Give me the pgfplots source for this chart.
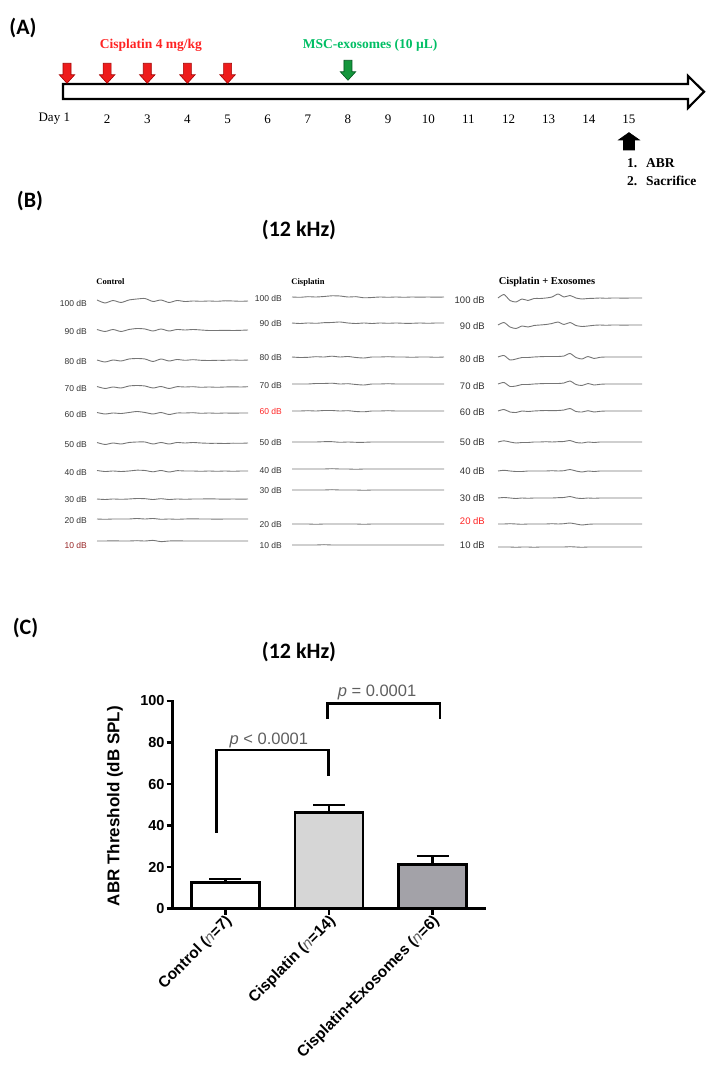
\documentclass[border=0pt]{standalone}
\usepackage{fontspec}
\setmainfont{Liberation Sans}
\newfontfamily\carlito{Carlito}
\newfontfamily\tnr{Liberation Serif}
\usepackage{pgfplots}
\usepackage{pgfplotstable}
\pgfplotsset{compat=1.18}

\definecolor{cred}{RGB}{238,28,28}
\definecolor{cdred}{RGB}{165,0,0}
\definecolor{cgreen}{RGB}{20,150,60}
\definecolor{cdgreen}{RGB}{0,85,30}
\definecolor{tgreen}{RGB}{0,190,100}
\definecolor{tred}{RGB}{255,35,35}
\definecolor{trace}{RGB}{118,118,118}
\definecolor{cisgray}{RGB}{214,214,214}
\definecolor{exogray}{RGB}{163,162,168}
\definecolor{pgray}{RGB}{95,95,95}
\definecolor{lbl}{RGB}{50,50,50}
\definecolor{darkred}{RGB}{150,35,35}

\pgfdeclareplotmark{darrow}{%
\pgfpathmoveto{\pgfqpoint{-4pt}{10pt}}%
\pgfpathlineto{\pgfqpoint{4pt}{10pt}}%
\pgfpathlineto{\pgfqpoint{4pt}{-1.5pt}}%
\pgfpathlineto{\pgfqpoint{7.7pt}{-1.5pt}}%
\pgfpathlineto{\pgfqpoint{0pt}{-10pt}}%
\pgfpathlineto{\pgfqpoint{-7.7pt}{-1.5pt}}%
\pgfpathlineto{\pgfqpoint{-4pt}{-1.5pt}}%
\pgfpathclose\pgfusepathqfillstroke}
\pgfdeclareplotmark{uarrow}{%
\pgfpathmoveto{\pgfqpoint{-5.5pt}{-8.7pt}}%
\pgfpathlineto{\pgfqpoint{5.5pt}{-8.7pt}}%
\pgfpathlineto{\pgfqpoint{5.5pt}{1.3pt}}%
\pgfpathlineto{\pgfqpoint{10.5pt}{1.3pt}}%
\pgfpathlineto{\pgfqpoint{0pt}{8.7pt}}%
\pgfpathlineto{\pgfqpoint{-10.5pt}{1.3pt}}%
\pgfpathlineto{\pgfqpoint{-5.5pt}{1.3pt}}%
\pgfpathclose\pgfusepathqfillstroke}

% ABR traces, y in pixels from top
\pgfplotstableread{
x c100 c90 c80 c70 c60 c50 c40 c30 c20 c10
97 300 329.5 360 386.5 412.5 442.5 470.5 499 519 541
105 303 331.5 362 388.5 414 444.5 471.5 499.5 519.3 541
113 300.5 329.5 360 387 413 443 471 499 519 540.8
121 302.5 331.5 361 388 413.5 444 471.5 499.3 519 541
129 300 329.5 359 386 412.5 442.5 471 499 519 541
137 299 328.5 358.5 385.5 411.5 442 470.2 498.5 518.5 540.7
145 298.5 329 359 386 412.5 442 470.5 498.7 519 541
153 301.5 331 361.5 388 414 444 471.8 499.5 518.5 540.4
161 300 329 359 386.5 412.5 442.5 470.5 498.7 519.3 541.6
169 302.5 331 361 388.5 414.5 444 472 499.5 519 541
177 300.5 329.5 359.5 386.7 413 442.5 470.7 499 519.3 540.8
185 301.5 330 360.3 387 413 443 471 499.3 519 541
193 301 329.5 359.7 386.7 412.7 442.5 471 499 518.8 541
201 301.3 330 360.3 387.3 413.3 443 471.3 499 519 541
209 301 330.5 360.5 387 413 443.3 471 498.8 519 541
217 301.3 330.5 360.3 387.3 413.3 443.3 471.3 499 519.2 541
225 300.8 330.3 360.3 387 413 443.5 471 499.2 519 541
233 301 330.5 360 386.8 413.2 443.2 471.3 499 519 541
241 301.3 330.3 360.3 387 413 443.3 471 499.2 519 541
248 301 330 360 386.7 413 443 471 499 519 541
}\ctrl

\pgfplotstableread{
x c100 c90 c80 c70 c60 c50 c40 c30 c20 c10
292 297 323 357 384 411 442 469 490 524 545
300 297.3 323.5 357.5 384 411 442 469 490 524 545
308 296.7 323 357.3 384 410.7 442 469 490 524 545
316 297 323.3 356.7 383.5 411 442 469 490 524.3 545
324 296.5 322.7 357 383.5 410.5 441.7 469 490 524 544.7
332 295.8 322.5 356.2 383.2 410.5 441.7 468.7 489.7 524 545
340 296 322 357 384 411 442.3 469 490 524 545
348 297 323 356.5 383.7 410.7 442 469 490 524 545
356 296.7 323.5 357.5 384.5 411.5 442.3 469.3 490 524 545
364 297.8 323 358 385 411.8 442.3 469 490.3 524.3 545
372 297.5 323.5 357 384 411 442 469 490 524 545
380 297 323 357 384 411 442 469 490 524 545
388 297.3 323.3 356.7 383.7 410.7 442 469 490 524 545
396 297 323 357 384 411 442 469 490 524 545
404 297.3 323.3 357 384 411 442 469 490 524 545
412 297 323.3 357.3 384 411 442 469 490 524 545
420 297.2 323 357 384 411 442 469 490 524 545
428 297 323.3 357 384 411 442 469 490 524 545
436 297.2 323 357.3 384 411 442 469 490 524 545
444 297 323 357 384 411 442 469 490 524 545
}\cis

\pgfplotstableread{
x c100 c90 c80 c70 c60 c50 c40 c30 c20 c10
498 298 325 357 384 411 442 471 498 524 547
504 294.5 322.5 355.5 382.5 409.5 440.8 470.3 497.5 524 547
510 300.5 327 360 386.5 412 442 471 498 523.7 547
516 302 328.5 359 386 412.5 443 471.5 498.5 524 547.3
522 299 326 357.5 384.5 411 442.5 471.5 498 524.3 547
528 300.5 327 357.5 384.5 411.5 442.5 471 498.3 524 547
534 298.5 325.5 357 384 411 442 471 498 524 547.3
540 298.5 325 356.7 383.7 410.7 442 471 498 524 547
546 298 324.5 356.5 383.5 410.5 441.7 471 498 524 547
552 297 323.5 356.5 383.5 410.7 442 470.7 498 523.7 547
558 294 322 356.5 383.5 410.5 441.7 471 497.7 524 547
564 297 324.5 356 383 410 441.5 470.7 497.5 523.7 547
570 295.5 322.5 353.5 381 408.5 440.5 469.5 496.5 523 546.7
576 298 325.5 357.5 384.5 411.5 442.5 471 498 524 547
582 299 326.5 359 385.5 412 443 472 498.5 525 547.3
588 298.5 326 356.5 383.5 410.7 442 471 498 524.3 547
594 298.3 325.3 358.5 385 412 442.5 471.5 498.3 524 547
600 298 325 357.3 384.3 411.3 442 471 498 524 547
606 298.3 325.3 357 384 411 442 471 498 524 547
612 298 325 357 384 411 442 471 498 524 547
618 298 325 357 384 411 442 471 498 524 547
624 298.2 325.2 357 384 411 442 471 498 524 547
630 298 325 357 384 411 442 471 498 524 547
636 298 325 357 384 411 442 471 498 524 547
642 298 325 357 384 411 442 471 498 524 547
}\exo

\begin{document}
\begin{tikzpicture}

% ---------- panel labels and titles ----------
\node[font=\carlito\bfseries\fontsize{22}{22}\selectfont] at (23pt,1044pt) {(A)};
\node[font=\carlito\bfseries\fontsize{22}{22}\selectfont] at (30pt,870.5pt) {(B)};
\node[font=\carlito\bfseries\fontsize{22}{22}\selectfont] at (25.5pt,444pt) {(C)};
\node[font=\carlito\bfseries\fontsize{22}{22}\selectfont] at (299pt,842pt) {(12 kHz)};
\node[font=\carlito\bfseries\fontsize{22}{22}\selectfont] at (299pt,420pt) {(12 kHz)};

% ---------- (A) timeline ----------
\begin{axis}[at={(26.86pt,1017pt)}, anchor=north west, scale only axis,
  width=682.4pt, height=135pt, xmin=0, xmax=17, ymin=55, ymax=190,
  y dir=reverse, hide axis, clip=false]
\addplot[draw=black, line width=2.2pt, fill=white, line join=miter]
  coordinates {(0.9,84) (16.47,84) (16.47,76) (16.87,91.7) (16.47,108) (16.47,99) (0.9,99)} -- cycle;
\addplot[only marks, mark=darrow, mark options={fill=cred, draw=cdred, line width=0.6pt}]
  coordinates {(1,73.3) (2,73.3) (3,73.3) (4,73.3) (5,73.3)};
\addplot[only marks, mark=darrow, mark options={fill=cgreen, draw=cdgreen, line width=0.6pt}]
  coordinates {(8,70.3)};
\addplot[only marks, mark=uarrow, mark options={fill=black, draw=black, line width=0.6pt}]
  coordinates {(15,141.3)};
\node[font=\tnr\fontsize{13}{13}\selectfont, anchor=east, inner sep=0pt] at (axis cs:1.08,119) {Day 1};
\pgfplotsinvokeforeach{2,3,4,5,6,7,8,9,10,11,12,13,14,15}{
  \node[font=\tnr\fontsize{13}{13}\selectfont, inner sep=0pt] at (axis cs:#1,119) {#1};
}
\node[font=\tnr\bfseries\fontsize{13.5}{13.5}\selectfont, text=tred] at (axis cs:3.09,45) {Cisplatin 4 mg/kg};
\node[font=\tnr\bfseries\fontsize{13.5}{13.5}\selectfont, text=tgreen] at (axis cs:8.55,45) {MSC-exosomes (10 µL)};
\node[font=\tnr\bfseries\fontsize{13.5}{13.5}\selectfont, anchor=west, inner sep=0pt] at (axis cs:14.95,163) {1.};
\node[font=\tnr\bfseries\fontsize{13.5}{13.5}\selectfont, anchor=west, inner sep=0pt] at (axis cs:15.42,163) {ABR};
\node[font=\tnr\bfseries\fontsize{13.5}{13.5}\selectfont, anchor=west, inner sep=0pt] at (axis cs:14.95,181) {2.};
\node[font=\tnr\bfseries\fontsize{13.5}{13.5}\selectfont, anchor=west, inner sep=0pt] at (axis cs:15.42,181) {Sacrifice};
\end{axis}

% ---------- (B) ABR traces ----------
\begin{axis}[at={(50pt,802pt)}, anchor=north west, scale only axis,
  width=650pt, height=290pt, xmin=50, xmax=700, ymin=270, ymax=560,
  y dir=reverse, hide axis, clip=false,
  trc/.style={color=trace, line width=0.9pt, smooth, tension=0.4, mark=none}]
\pgfplotsinvokeforeach{c100,c90,c80,c70,c60,c50,c40,c30,c20,c10}{
  \addplot[trc] table[x=x, y=#1]{\ctrl};
  \addplot[trc] table[x=x, y=#1]{\cis};
  \addplot[trc] table[x=x, y=#1]{\exo};
}
\node[font=\tnr\bfseries\fontsize{8.5}{8.5}\selectfont] at (axis cs:110.5,282) {Control};
\node[font=\tnr\bfseries\fontsize{8.5}{8.5}\selectfont] at (axis cs:308,282) {Cisplatin};
\node[font=\tnr\bfseries\fontsize{10.5}{10.5}\selectfont] at (axis cs:547,282) {Cisplatin + Exosomes};
\begin{scope}[every node/.style={font=\fontsize{8.5}{8.5}\selectfont, anchor=east, inner sep=0pt, text=lbl}]
\node at (axis cs:87,303) {100 dB};
\node at (axis cs:87,331) {90 dB};
\node at (axis cs:87,361) {80 dB};
\node at (axis cs:87,388) {70 dB};
\node at (axis cs:87,414) {60 dB};
\node at (axis cs:87,444) {50 dB};
\node at (axis cs:87,472) {40 dB};
\node at (axis cs:87,499) {30 dB};
\node at (axis cs:87,520) {20 dB};
\node[text=darkred] at (axis cs:87,545) {10 dB};
\node at (axis cs:282,298) {100 dB};
\node at (axis cs:282,323) {90 dB};
\node at (axis cs:282,357) {80 dB};
\node at (axis cs:282,385) {70 dB};
\node[text=tred] at (axis cs:282,411) {60 dB};
\node at (axis cs:282,442) {50 dB};
\node at (axis cs:282,470) {40 dB};
\node at (axis cs:282,490) {30 dB};
\node at (axis cs:282,524) {20 dB};
\node at (axis cs:282,545) {10 dB};
\end{scope}
\begin{scope}[every node/.style={font=\fontsize{9.5}{9.5}\selectfont, anchor=east, inner sep=0pt, text=lbl}]
\node at (axis cs:485,300) {100 dB};
\node at (axis cs:485,326) {90 dB};
\node at (axis cs:485,359) {80 dB};
\node at (axis cs:485,386) {70 dB};
\node at (axis cs:485,412) {60 dB};
\node at (axis cs:485,442) {50 dB};
\node at (axis cs:485,471) {40 dB};
\node at (axis cs:485,498) {30 dB};
\node[text=tred] at (axis cs:485,521) {20 dB};
\node at (axis cs:485,545) {10 dB};
\end{scope}
\end{axis}

% ---------- (C) bar chart ----------
\begin{axis}[at={(172.7pt,163.3pt)}, anchor=south west, scale only axis,
  width=312.3pt, height=207.7pt,
  xmin=-0.507, xmax=2.504, ymin=0, ymax=100,
  axis lines*=left, clip=false,
  axis line style={line width=2.5pt, line cap=rect},
  tick style={line width=2.5pt, black}, major tick length=6pt, tick align=outside,
  ytick={0,20,40,60,80,100}, xtick={0,1,2},
  /pgf/number format/assume math mode=true,
  yticklabel style={font=\bfseries\fontsize{14.5}{14.5}\selectfont, inner sep=2pt},
  xticklabels={{Control ({\color{pgray}\mdseries\itshape n}=7)},{Cisplatin ({\color{pgray}\mdseries\itshape n}=14)},{Cisplatin+Exosomes ({\color{pgray}\mdseries\itshape n}=6)}},
  xticklabel style={rotate=45, anchor=east, xshift=2pt, yshift=-6pt, font=\bfseries\fontsize{15.5}{15.5}\selectfont, inner sep=2pt},
  ylabel={ABR Threshold (dB SPL)},
  ylabel style={font=\bfseries\fontsize{17}{17}\selectfont, at={(axis description cs:-0.185,0.494)}, anchor=center},
  barstyle/.style={ybar, bar shift=0pt, bar width=68pt, draw=black, line width=2.5pt,
    error bars/y dir=plus, error bars/y explicit,
    error bars/error bar style={line width=2.5pt, black},
    error bars/error mark options={rotate=90, mark size=16pt, line width=2.5pt, black}}]
\addplot[barstyle, fill=white] coordinates {(0,12.5) +- (0,1.9)};
\addplot[barstyle, fill=cisgray] coordinates {(1,46.2) +- (0,3.7)};
\addplot[barstyle, fill=exogray] coordinates {(2,21.4) +- (0,4.0)};
\addplot[line width=2.5pt, black, mark=none, line join=miter] coordinates {(-0.083,36.6) (-0.083,76.4) (0.994,76.4) (0.994,63.9)};
\addplot[line width=2.5pt, black, mark=none, line join=miter] coordinates {(0.985,91.3) (0.985,98.9) (2.07,98.9) (2.07,91.3)};
\node[font=\fontsize{16.5}{16.5}\selectfont, text=pgray] at (axis cs:0.42,81.2) {\textit{p} < 0.0001};
\node[font=\fontsize{16.5}{16.5}\selectfont, text=pgray] at (axis cs:1.463,104.3) {\textit{p} = 0.0001};
\end{axis}

\pgfresetboundingbox
\path[use as bounding box] (0,0) rectangle (721pt,1072pt);
\end{tikzpicture}
\end{document}
